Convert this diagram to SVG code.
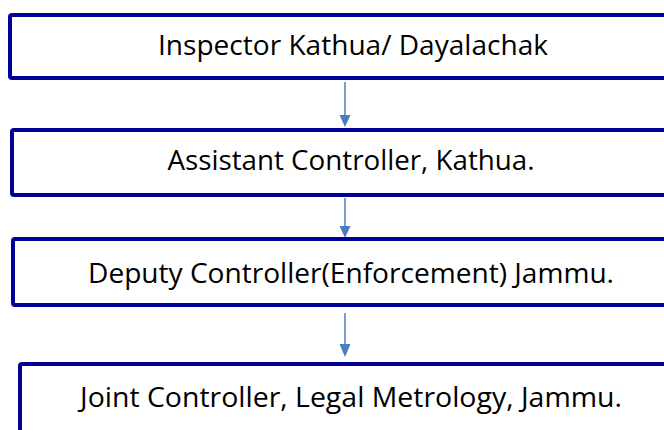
<svg xmlns="http://www.w3.org/2000/svg" width="664" height="430" viewBox="0 0 664 430">
<style>
.box{fill:#fff;stroke:#000099;stroke-width:4}
.lbl{font-family:"Open Sans","Noto Sans",sans-serif;font-size:27px;fill:#000;text-anchor:middle}
.con{stroke:#4a7ebb;stroke-width:1.5;fill:none}
.head{fill:#4a7ebb}
</style>
<rect width="664" height="430" fill="#fff"/>
<g id="connectors">
<line class="con" x1="345" y1="82" x2="345" y2="116"/>
<path class="head" d="M339.5,115 L350.5,115 L345,127 Z"/>
<line class="con" x1="345" y1="198" x2="345" y2="227"/>
<path class="head" d="M339.5,226 L350.5,226 L345,238 Z"/>
<line class="con" x1="345" y1="313" x2="345" y2="345"/>
<path class="head" d="M339.5,344 L350.5,344 L345,357 Z"/>
</g>
<g id="n1"><rect class="box" x="10" y="15" width="680" height="63" rx="2"/><text class="lbl" x="353" y="55" textLength="390" lengthAdjust="spacingAndGlyphs">Inspector Kathua/ Dayalachak</text></g>
<g id="n2"><rect class="box" x="12" y="130" width="680" height="65" rx="2"/><text class="lbl" x="351" y="170" textLength="367" lengthAdjust="spacingAndGlyphs">Assistant Controller, Kathua.</text></g>
<g id="n3"><rect class="box" x="13" y="239" width="680" height="66" rx="2"/><text class="lbl" x="351" y="283" textLength="526" lengthAdjust="spacingAndGlyphs">Deputy Controller(Enforcement) Jammu.</text></g>
<g id="n4"><rect class="box" x="20" y="364" width="680" height="80" rx="2"/><text class="lbl" x="351" y="407" textLength="542" lengthAdjust="spacingAndGlyphs">Joint Controller, Legal Metrology, Jammu.</text></g>
</svg>
